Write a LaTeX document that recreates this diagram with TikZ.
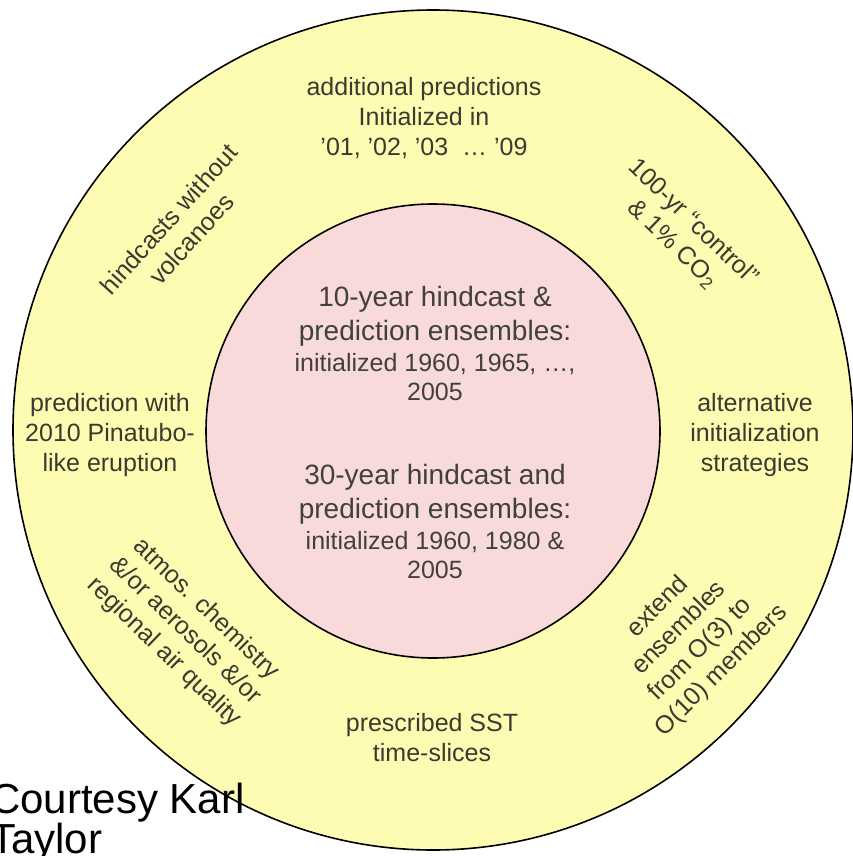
\documentclass[tikz,border=0pt]{standalone}
\usepackage{fontspec}
\setmainfont{Liberation Sans}
\usetikzlibrary{positioning}

\definecolor{ringfill}{RGB}{254,252,178}
\definecolor{corefill}{RGB}{249,218,218}
\definecolor{labeltext}{RGB}{58,58,48}

\begin{document}
\begin{tikzpicture}[x=1pt, y=-1pt,
    ringlabel/.style={align=center, text=labeltext, inner sep=0pt, font=\fontsize{25}{30}\selectfont},
    corelabel/.style={align=center, text=labeltext!90!gray, inner sep=0pt, font=\fontsize{28}{34}\selectfont}]
  \useasboundingbox (0,0) rectangle (853,856);

  % the two rings
  \draw[fill=ringfill, line width=1.6pt] (433,430) circle (420);
  \draw[fill=corefill, line width=1.6pt] (433,431) circle (227);

  % centre
  \node[corelabel] (tenyr) at (435,343) {10-year hindcast \&\\ prediction ensembles:\\[-3pt]
    {\fontsize{25}{30}\selectfont initialized 1960, 1965, \ldots,}\\[-5pt]
    {\fontsize{25}{30}\selectfont 2005}};
  \node[corelabel] (thirtyyr) at (435,521) {30-year hindcast and\\ prediction ensembles:\\[-3pt]
    {\fontsize{25}{30}\selectfont initialized 1960, 1980 \&}\\[-5pt]
    {\fontsize{25}{30}\selectfont 2005}};

  % ring
  \node[ringlabel] (extra) at (424,118) {additional predictions\\ Initialized in\\ '01, '02, '03 \ \ldots\ '09};
  \node[ringlabel, rotate=-44] (control) at (683,233) {100-yr “control”\\ \& 1\% CO\textsubscript{2}};
  \node[ringlabel] (altinit) at (755,435) {alternative\\ initialization\\ strategies};
  \node[ringlabel, rotate=45] (extend) at (690,639) {extend\\ ensembles\\ from O(3) to\\ O(10) members};
  \node[ringlabel] (sst) at (432,738) {prescribed SST\\ time-slices};
  \node[ringlabel, rotate=-44] (chem) at (185,631) {atmos. chemistry\\ \&/or aerosols \&/or\\ regional air quality};
  \node[ringlabel] (pinatubo) at (110,435) {prediction with\\ 2010 Pinatubo-\\ like eruption};
  \node[ringlabel, rotate=48] (novolc) at (180,229) {hindcasts without\\ volcanoes};

  \node[anchor=north west, align=left, inner sep=0pt, font=\fontsize{42}{29}\selectfont] (credit) at (-10,783) {Courtesy Karl\\ Taylor};
\end{tikzpicture}
\end{document}
